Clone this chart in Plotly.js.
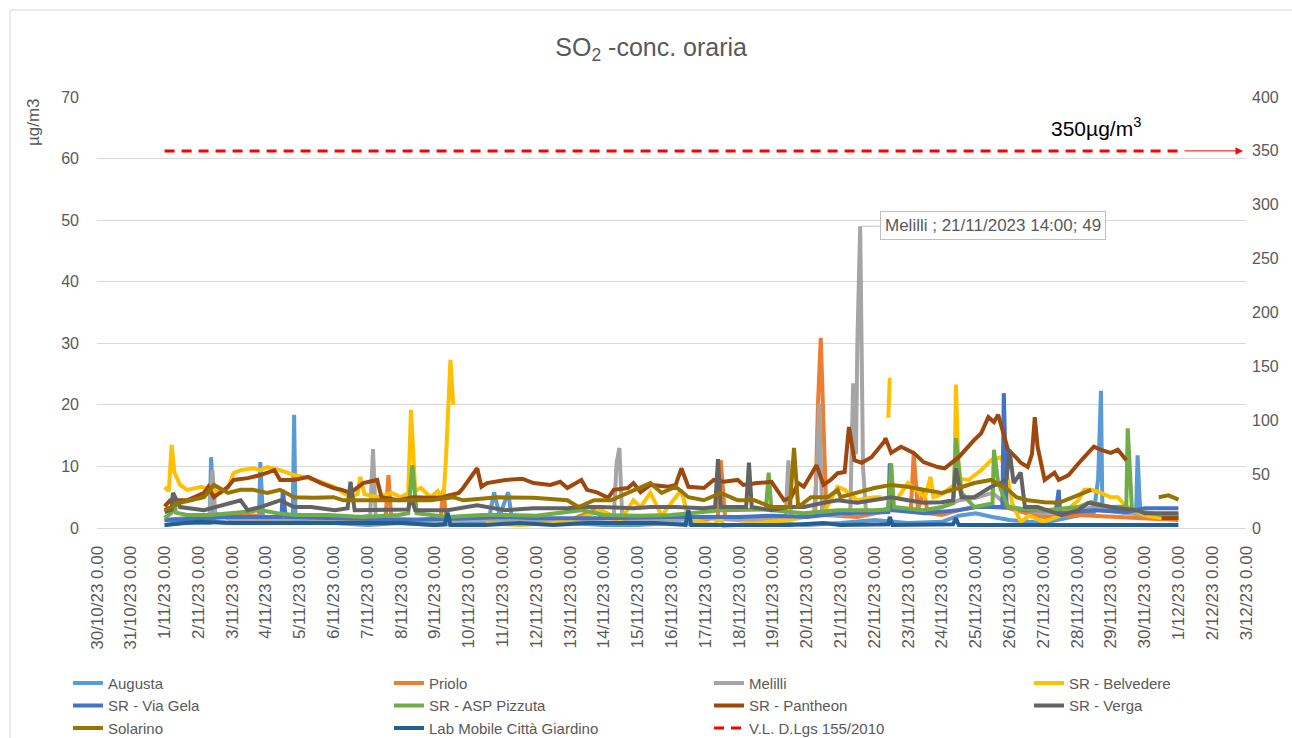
<!DOCTYPE html>
<html><head><meta charset="utf-8">
<script src="https://cdn.plot.ly/plotly-3.0.1.min.js"></script>
<style>html,body{margin:0;padding:0;background:#fff}#chart{width:1292px;height:738px}</style>
</head><body><div id="chart"></div>
<script>
// [day of November 2023 (1.0 = 1/11/23 0.00), SO2 µg/m3]
const augusta = [[1.00,0.5],[1.50,0.8],[2.33,0.8],[2.39,11.5],[2.46,1.0],[3.00,0.8],[3.80,1.0],[3.84,10.7],[3.90,1.0],[4.78,1.3],[4.82,18.4],[4.88,1.3],[6.00,0.8],[7.00,0.5],[8.00,0.8],[9.00,0.5],[10.60,1.0],[10.74,5.8],[10.90,2.0],[11.16,5.8],[11.30,1.0],[12.00,0.8],[13.00,0.8],[14.00,0.5],[15.00,0.5],[16.00,0.8],[17.00,0.5],[18.00,0.5],[19.00,0.8],[20.00,0.5],[21.00,0.8],[22.00,1.3],[23.00,0.8],[24.00,1.0],[24.50,2.0],[25.00,2.4],[25.50,1.8],[26.00,1.3],[27.00,0.8],[28.00,2.1],[28.50,2.6],[28.64,8.0],[28.69,22.3],[28.76,2.9],[29.50,2.4],[29.77,3.0],[29.81,11.8],[29.87,2.1],[30.50,1.6],[30.99,1.8]];
const priolo = [[1.00,1.3],[2.00,1.3],[2.90,2.1],[3.50,2.1],[4.00,1.8],[4.50,1.6],[5.00,1.8],[6.00,1.3],[7.00,1.6],[7.55,2.0],[7.63,8.6],[7.72,1.6],[8.50,1.3],[9.18,1.6],[9.26,6.2],[9.35,1.6],[10.00,1.3],[11.00,1.6],[12.00,1.3],[13.00,1.3],[13.70,2.9],[14.00,1.6],[15.00,1.3],[16.00,1.6],[17.00,1.3],[17.38,2.0],[17.46,11.0],[17.58,1.8],[18.50,1.3],[19.50,1.6],[20.25,2.0],[20.34,20.0],[20.42,30.9],[20.51,14.3],[20.60,2.1],[21.50,1.8],[22.00,2.4],[22.50,2.9],[23.10,3.0],[23.18,12.2],[23.28,2.9],[23.47,6.2],[23.60,2.4],[24.00,2.1],[24.50,2.9],[25.00,3.4],[25.50,3.4],[26.00,3.2],[26.50,2.4],[27.00,1.8],[28.00,2.1],[29.00,1.8],[30.00,1.6],[30.99,1.3]];
const melilli = [[1.00,1.3],[1.50,1.6],[2.35,2.0],[2.42,9.4],[2.52,2.4],[3.00,1.3],[4.00,1.3],[5.00,1.6],[6.00,1.3],[7.08,2.0],[7.16,12.8],[7.24,1.6],[8.00,1.3],[9.00,1.0],[10.00,1.3],[11.00,1.3],[12.00,1.0],[13.00,1.3],[14.30,1.6],[14.38,10.5],[14.45,13.0],[14.53,1.6],[15.00,1.3],[16.00,1.3],[17.00,1.6],[18.00,1.3],[19.38,1.6],[19.46,11.0],[19.55,1.6],[20.20,2.0],[20.30,8.0],[20.37,20.2],[20.46,2.4],[21.00,2.0],[21.30,3.0],[21.37,23.5],[21.45,12.0],[21.52,30.0],[21.58,49.0],[21.66,10.0],[21.75,3.0],[22.00,2.4],[22.50,3.4],[23.00,2.9],[23.50,2.4],[24.00,3.4],[24.50,4.5],[25.00,4.9],[25.50,5.7],[26.00,3.4],[26.50,2.9],[27.00,2.4],[28.00,2.9],[28.50,3.4],[29.00,2.9],[29.50,2.4],[30.00,2.1],[30.99,1.8]];
const belvedere = [[1.00,6.6],[1.12,6.0],[1.21,13.5],[1.30,9.0],[1.47,7.0],[1.68,6.2],[2.07,6.7],[2.36,6.2],[2.66,5.7],[2.87,6.5],[3.04,8.9],[3.25,9.4],[3.64,9.7],[3.84,9.4],[4.05,9.9],[4.43,9.4],[4.82,8.6],[5.23,8.1],[5.62,7.5],[6.00,6.7],[6.30,5.7],[6.51,5.0],[6.72,5.5],[6.80,8.3],[6.90,5.5],[7.31,5.0],[7.69,5.7],[8.00,5.0],[8.22,5.7],[8.31,19.2],[8.40,6.0],[8.60,6.5],[8.88,5.0],[9.10,6.0],[9.26,4.5],[9.35,12.0],[9.44,27.3],[9.53,20.0],[9.60,null],[10.50,0.8],[11.50,0.5],[12.50,0.8],[13.32,1.6],[13.91,2.9],[14.50,1.3],[14.89,4.5],[15.10,3.4],[15.39,5.7],[15.70,2.0],[16.28,6.2],[16.50,1.5],[17.26,0.5],[17.46,1.6],[17.55,0.3],[18.50,0.8],[19.50,1.3],[20.50,2.4],[20.93,6.7],[21.11,6.2],[21.50,4.5],[22.00,5.0],[22.20,5.0],[22.30,null],[22.43,17.9],[22.47,24.4],[22.55,null],[22.70,5.0],[23.00,7.3],[23.50,5.0],[23.68,8.3],[23.77,5.0],[24.00,5.5],[24.36,7.0],[24.42,23.3],[24.50,8.0],[24.78,7.8],[25.16,9.4],[25.46,11.0],[25.76,11.5],[25.90,9.0],[26.10,4.0],[26.35,1.0],[26.60,2.0],[27.00,1.0],[27.50,2.0],[28.03,4.5],[28.21,6.2],[28.42,6.2],[28.72,5.7],[29.01,5.0],[29.22,5.0],[29.40,3.7],[29.70,2.9],[30.00,2.1],[30.50,1.6],[30.99,1.6]];
const viaGela = [[1.00,1.3],[2.00,1.6],[3.00,1.8],[4.45,1.8],[4.52,6.2],[4.60,1.8],[6.00,1.6],[8.00,1.3],[10.00,1.6],[11.00,1.8],[12.00,1.6],[14.00,1.6],[16.00,1.8],[18.00,1.8],[19.00,2.0],[20.00,1.8],[21.00,2.4],[22.40,2.6],[22.47,10.5],[22.55,2.9],[23.50,2.4],[24.50,2.9],[25.00,3.4],[25.78,3.4],[25.84,21.9],[25.92,3.4],[26.50,2.9],[27.38,2.9],[27.44,6.2],[27.52,2.4],[28.50,2.9],[29.50,2.6],[30.00,3.2],[30.99,3.2]];
const aspPizzuta = [[1.00,1.6],[1.20,2.5],[1.27,5.7],[1.35,2.5],[1.68,2.1],[2.36,2.1],[3.34,2.6],[3.84,2.9],[4.35,2.4],[4.82,2.1],[5.83,2.1],[6.89,1.8],[7.90,2.1],[8.22,2.4],[8.34,10.2],[8.45,2.4],[9.38,1.8],[10.36,2.1],[11.10,2.1],[12.00,2.0],[13.32,2.9],[14.00,2.1],[15.00,2.0],[16.00,2.1],[17.46,2.9],[18.26,2.9],[18.80,3.0],[18.86,9.0],[18.94,2.9],[19.92,2.4],[20.93,2.9],[22.00,2.9],[22.42,3.0],[22.50,10.5],[22.59,3.4],[23.47,2.9],[23.98,3.4],[24.35,4.0],[24.42,14.6],[24.57,5.7],[24.96,3.4],[25.48,4.0],[25.55,12.7],[25.67,7.3],[25.96,3.4],[26.50,3.0],[27.03,2.9],[28.03,3.4],[28.42,4.2],[29.01,3.4],[29.44,3.5],[29.51,16.2],[29.62,2.9],[30.49,2.1],[30.99,2.1]];
const pantheon = [[1.00,3.5],[1.18,4.5],[1.68,4.5],[2.15,5.7],[2.30,6.7],[2.45,5.0],[2.87,6.7],[3.04,7.8],[3.46,8.1],[3.84,8.6],[4.23,9.4],[4.43,7.8],[4.82,7.8],[5.23,8.3],[5.62,7.3],[6.00,6.5],[6.25,6.2],[6.51,5.7],[6.89,7.3],[7.31,7.8],[7.40,5.0],[7.90,4.5],[8.34,5.0],[8.88,4.9],[9.20,5.0],[9.70,5.7],[9.85,6.5],[10.27,9.7],[10.36,6.7],[10.55,7.3],[11.10,7.8],[11.60,8.0],[11.93,7.3],[12.40,7.0],[12.70,7.5],[12.93,6.5],[13.32,7.8],[13.50,6.2],[13.80,5.8],[14.12,4.9],[14.30,6.2],[14.71,6.5],[14.89,7.3],[15.10,5.8],[15.39,7.0],[15.90,6.7],[16.13,7.0],[16.28,9.7],[16.49,6.7],[16.96,6.5],[17.26,7.8],[17.55,7.5],[17.97,7.8],[18.14,7.0],[18.56,7.3],[18.94,7.5],[19.33,4.5],[19.54,5.0],[19.74,7.3],[19.92,6.7],[20.28,10.2],[20.51,7.0],[20.72,7.8],[20.93,8.9],[21.11,9.1],[21.25,16.4],[21.40,11.0],[21.61,10.6],[21.91,11.5],[22.29,14.0],[22.35,14.6],[22.50,12.2],[22.79,13.2],[23.18,12.2],[23.47,10.7],[23.89,9.9],[24.07,9.7],[24.48,11.5],[24.96,14.3],[25.16,15.4],[25.37,18.0],[25.55,17.2],[25.67,18.4],[25.82,15.4],[25.96,12.7],[26.20,11.4],[26.35,10.6],[26.56,9.9],[26.68,12.0],[26.73,18.0],[26.85,13.2],[27.03,7.8],[27.32,9.0],[27.44,7.8],[27.74,8.6],[28.12,11.0],[28.51,13.2],[28.72,12.7],[29.01,12.2],[29.22,12.7],[29.46,11.0],[29.55,null],[30.49,1.6],[30.99,1.6]];
const verga = [[1.00,2.6],[1.20,3.0],[1.27,5.7],[1.47,3.4],[2.15,2.9],[2.66,3.7],[3.25,4.5],[3.46,2.9],[3.84,3.4],[4.43,4.5],[4.82,3.4],[5.32,3.4],[6.06,2.9],[6.40,3.2],[6.51,7.5],[6.62,2.9],[7.40,2.9],[8.20,3.0],[8.28,5.0],[8.40,2.9],[9.38,2.9],[10.27,3.7],[11.10,2.9],[11.93,3.2],[12.93,3.2],[13.32,3.4],[13.91,3.4],[14.89,3.2],[15.39,3.4],[16.13,3.4],[16.96,3.2],[17.28,3.4],[17.37,11.2],[17.46,3.4],[18.20,3.4],[18.29,10.6],[18.38,3.4],[18.94,2.9],[19.45,3.4],[19.92,3.4],[20.51,4.1],[20.93,4.5],[21.52,4.1],[22.00,4.5],[22.50,5.0],[23.00,4.5],[23.47,4.1],[23.98,4.2],[24.35,4.5],[24.42,9.7],[24.57,5.0],[24.96,5.0],[25.46,6.7],[25.76,7.3],[25.90,8.0],[25.99,12.7],[26.14,7.3],[26.35,9.0],[26.44,3.4],[26.85,3.4],[27.53,2.1],[28.03,2.9],[28.33,4.1],[28.72,3.7],[29.22,3.2],[29.81,2.9],[29.99,2.4],[30.99,2.4]];
const solarino = [[1.00,2.9],[1.47,4.1],[2.15,5.0],[2.45,7.0],[2.87,5.7],[3.25,6.2],[3.64,6.2],[4.05,5.7],[4.43,6.2],[4.82,5.0],[5.41,4.9],[6.00,5.0],[6.30,4.5],[7.00,4.5],[7.90,4.5],[8.88,4.5],[9.56,5.0],[9.85,4.5],[10.86,5.0],[11.93,4.9],[12.93,4.5],[13.23,3.4],[13.70,4.5],[14.21,4.5],[14.71,5.7],[15.39,7.3],[15.69,5.7],[16.13,6.7],[16.49,5.0],[16.96,4.5],[17.46,5.7],[17.97,4.5],[18.44,4.5],[18.94,3.4],[19.50,3.4],[19.62,13.0],[19.74,3.4],[20.13,5.0],[20.63,5.0],[20.93,6.2],[21.02,5.0],[21.52,5.8],[22.00,6.5],[22.50,7.0],[23.00,6.7],[23.47,6.2],[23.98,5.7],[24.48,6.5],[24.96,7.3],[25.46,7.8],[25.96,6.2],[26.20,5.0],[26.56,4.5],[27.03,4.2],[27.44,4.1],[27.83,4.9],[28.21,5.8],[28.42,6.2],[28.50,null],[30.43,5.0],[30.70,5.3],[30.99,4.6]];
const labMobile = [[1.00,0.5],[1.50,0.8],[2.00,1.0],[3.00,0.8],[4.00,0.8],[5.00,0.8],[6.00,0.8],[7.00,0.8],[8.00,0.8],[9.00,0.5],[9.30,0.6],[9.38,2.5],[9.46,0.5],[10.50,0.5],[11.50,0.8],[12.50,0.5],[13.50,0.8],[14.50,0.8],[15.50,0.8],[16.40,0.5],[16.49,2.9],[16.58,0.5],[17.50,0.5],[18.50,0.5],[19.50,0.5],[20.50,0.8],[21.00,0.5],[22.40,0.6],[22.47,1.8],[22.55,0.5],[23.50,0.5],[24.35,0.6],[24.42,1.6],[24.50,0.5],[25.50,0.5],[26.50,0.5],[27.50,0.5],[28.50,0.5],[29.50,0.5],[30.99,0.5]];
// limit value (right axis)
const vlDays = [1, 31];
const vlValues = [350, 350];

const tickDates = ['2023-10-30','2023-10-31','2023-11-01','2023-11-02','2023-11-03','2023-11-04','2023-11-05','2023-11-06','2023-11-07','2023-11-08','2023-11-09','2023-11-10','2023-11-11','2023-11-12','2023-11-13','2023-11-14','2023-11-15','2023-11-16','2023-11-17','2023-11-18','2023-11-19','2023-11-20','2023-11-21','2023-11-22','2023-11-23','2023-11-24','2023-11-25','2023-11-26','2023-11-27','2023-11-28','2023-11-29','2023-11-30','2023-12-01','2023-12-02','2023-12-03'];
const tickText = ['30/10/23 0.00','31/10/23 0.00','1/11/23 0.00','2/11/23 0.00','3/11/23 0.00','4/11/23 0.00','5/11/23 0.00','6/11/23 0.00','7/11/23 0.00','8/11/23 0.00','9/11/23 0.00','10/11/23 0.00','11/11/23 0.00','12/11/23 0.00','13/11/23 0.00','14/11/23 0.00','15/11/23 0.00','16/11/23 0.00','17/11/23 0.00','18/11/23 0.00','19/11/23 0.00','20/11/23 0.00','21/11/23 0.00','22/11/23 0.00','23/11/23 0.00','24/11/23 0.00','25/11/23 0.00','26/11/23 0.00','27/11/23 0.00','28/11/23 0.00','29/11/23 0.00','30/11/23 0.00','1/12/23 0.00','2/12/23 0.00','3/12/23 0.00'];

function toMs(t){ return Date.UTC(2023,10,1) + Math.round((t-1)*24)*3600000; }
const FONT = 'Liberation Sans, Arial, sans-serif';
const GREY = '#595959';

const series = [
  {name:'Augusta', data:augusta, color:'#5B9BD5', legend:'legend'},
  {name:'Priolo', data:priolo, color:'#ED7D31', legend:'legend2'},
  {name:'Melilli', data:melilli, color:'#A5A5A5', legend:'legend3'},
  {name:'SR - Belvedere', data:belvedere, color:'#FFC000', legend:'legend4'},
  {name:'SR - Via Gela', data:viaGela, color:'#4472C4', legend:'legend'},
  {name:'SR - ASP Pizzuta', data:aspPizzuta, color:'#70AD47', legend:'legend2'},
  {name:'SR - Pantheon', data:pantheon, color:'#9E480E', legend:'legend3'},
  {name:'SR - Verga', data:verga, color:'#636363', legend:'legend4'},
  {name:'Solarino', data:solarino, color:'#997300', legend:'legend'},
  {name:'Lab Mobile Città Giardino', data:labMobile, color:'#255E91', legend:'legend2'}
];
const traces = series.map(s => ({
  type:'scatter', mode:'lines', name:s.name, legend:s.legend,
  x:s.data.map(p=>toMs(p[0])), y:s.data.map(p=>p[1]),
  line:{color:s.color, width:4}, hoverinfo:'name+y'
}));
traces.push({
  type:'scatter', mode:'lines', name:'V.L. D.Lgs 155/2010', legend:'legend3', yaxis:'y2',
  x:vlDays.map(toMs), y:vlValues, line:{color:'#FF0000', width:3, dash:'10px,7px'}
});

const legendCommon = {orientation:'v', xanchor:'left', yanchor:'top', y:-0.3219,
  font:{family:FONT, size:15, color:GREY}, bgcolor:'rgba(0,0,0,0)', tracegroupgap:0};

const layout = {
  width:1292, height:738,
  margin:{l:97, r:46, t:97, b:210, autoexpand:false},
  paper_bgcolor:'#fff', plot_bgcolor:'#fff',
  font:{family:FONT, color:GREY},
  title:{text:'SO<sub>2</sub> -conc. oraria', font:{family:FONT, size:25, color:GREY},
         x:0.504, xref:'container', xanchor:'center', y:0.936, yref:'container', yanchor:'middle'},
  xaxis:{type:'date', range:[tickDates[0], tickDates[tickDates.length-1]],
         tickmode:'array', tickvals:tickDates, ticktext:tickText, tickangle:-90,
         tickfont:{family:FONT, size:17, color:GREY}, showgrid:false, zeroline:false,
         showline:true, linecolor:'#D9D9D9', ticks:'', ticklabelstandoff:10},
  yaxis:{range:[0,70], dtick:10, tick0:0, gridcolor:'#D9D9D9', zeroline:false, showline:false, ticks:'',
         tickfont:{family:FONT, size:16, color:GREY}, ticklabelstandoff:17},
  yaxis2:{range:[0,400], dtick:50, tick0:0, overlaying:'y', side:'right', showgrid:false, zeroline:false,
          showline:false, ticks:'', tickfont:{family:FONT, size:16, color:GREY}, ticklabelstandoff:5},
  legend:Object.assign({x:-0.02524}, legendCommon),
  legend2:Object.assign({x:0.25413}, legendCommon),
  legend3:Object.assign({x:0.53264}, legendCommon),
  legend4:Object.assign({x:0.81114}, legendCommon),
  showlegend:true,
  annotations:[
    {xref:'paper', yref:'paper', x:-0.0548, y:0.942, text:'µg/m3', textangle:-90, showarrow:false,
     xanchor:'center', yanchor:'middle', font:{family:FONT, size:17, color:GREY}},
    {xref:'x', yref:'y', x:toMs(21.58), y:49, text:'Melilli ; 21/11/2023 14:00; 49', showarrow:true,
     arrowhead:0, arrowwidth:1, arrowcolor:'#BFBFBF', ax:133, ay:-1, bgcolor:'#fff', bordercolor:'#BFBFBF',
     borderwidth:1, borderpad:4, font:{family:FONT, size:17, color:GREY}},
    {xref:'paper', yref:'y2', x:0.8695, y:350, yshift:24, xanchor:'center', text:'350µg/m<sup>3</sup>', showarrow:false,
     font:{family:FONT, size:21, color:'#000'}},
    {xref:'paper', yref:'y2', x:0.9974, y:350, ax:-60, ay:0, text:'', showarrow:true,
     arrowhead:2, arrowsize:1.5, arrowwidth:1, arrowcolor:'#FF0000'}
  ],
  shapes:[
    {type:'rect', xref:'paper', yref:'paper', x0:-0.0757, x1:1.047, y0:1.2019, y1:-0.515,
     line:{color:'#D9D9D9', width:1}, fillcolor:'rgba(0,0,0,0)', layer:'below'}
  ]
};

Plotly.newPlot('chart', traces, layout, {displayModeBar:false, staticPlot:true});
</script>
</body></html>
